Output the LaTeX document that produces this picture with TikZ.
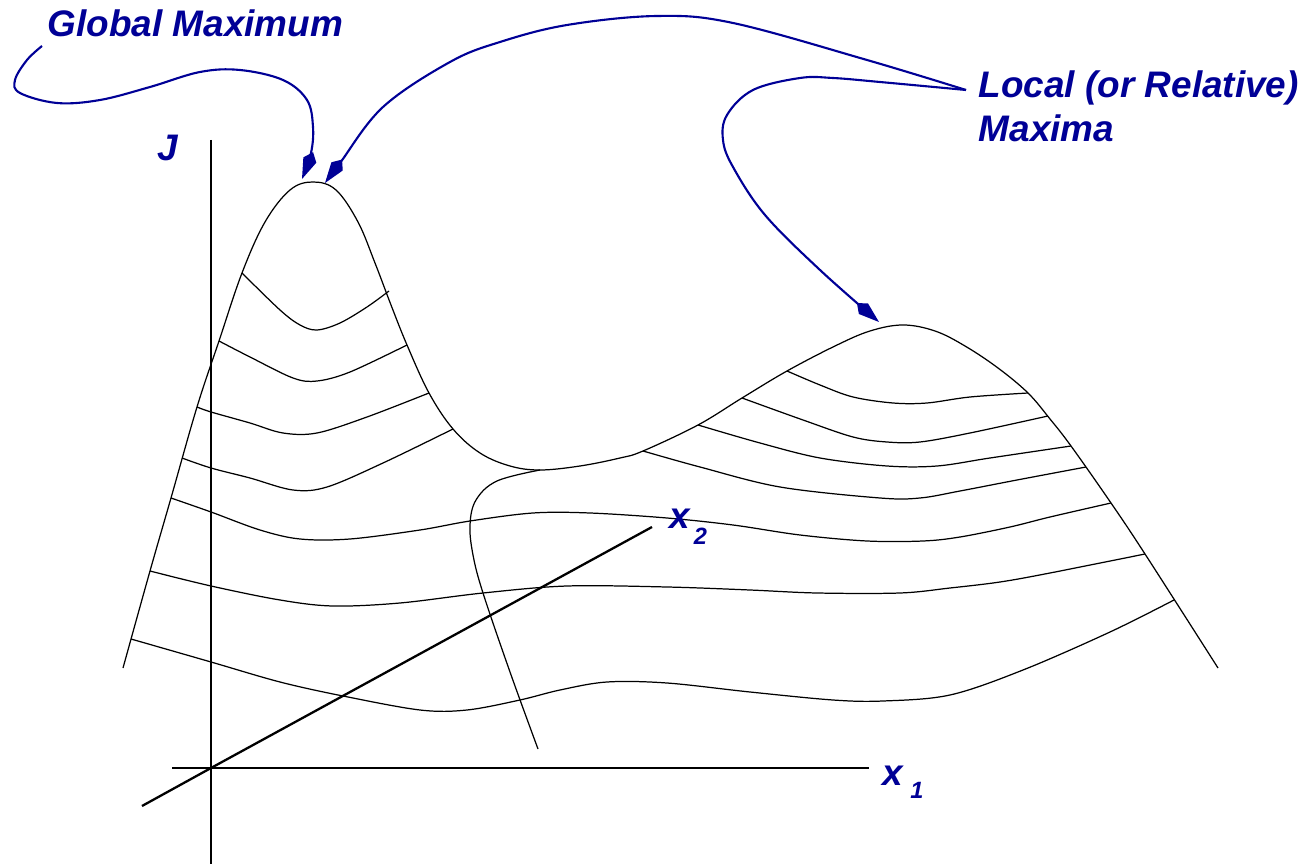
\documentclass[tikz,border=0pt]{standalone}
\usepackage{fontspec}
\setmainfont{Liberation Sans}
\usetikzlibrary{arrows.meta}
\definecolor{labblue}{RGB}{0,0,150}
\begin{document}
\begin{tikzpicture}[x=0.01cm, y=-0.01cm,
  surf/.style={line width=0.35pt, line join=round},
  axisline/.style={line width=0.4pt},
  thickaxis/.style={line width=0.65pt},
  lab/.style={text=labblue, font=\bfseries\itshape\fontsize{10.5}{12.5}\selectfont, inner sep=0pt},
  ptr/.style={draw=labblue, line width=0.6pt, line join=round,
    -{Kite[length=0.29cm,width=0.14cm,inset=0.085cm]}}]
\useasboundingbox (0,0) rectangle (1306,864);

% axes
\coordinate (O) at (211,768);
\coordinate (Jtop) at (211,140);
\coordinate (Jbot) at (211,864);
\coordinate (x1a) at (172,768);
\coordinate (x1b) at (869,768);
\coordinate (x2a) at (142,806);
\coordinate (x2b) at (652,527);
\draw[axisline] (Jtop) -- (Jbot);
\draw[axisline] (x1a) -- (x1b);
\draw[thickaxis] (x2a) -- (O) -- (x2b);

% outline ridge
\draw[surf] plot[smooth, tension=0.6] coordinates {
 (123,668) (150,571) (171,498) (197,407) (219,341)
 (242,273) (265,222) (290,190) (313,182) (336,190) (358,222) (375,263)
 (391,305) (407,345) (429,393) (453,429) (480,453) (510,466) (540,470)
 (580,466) (620,458) (643,451) (698,425) (742,398) (787,371) (835,346) (870,331)
 (903,325) (935,331) (965,346) (998,368) (1028,393) (1050,419) (1071,446)
 (1111,503) (1145,554) (1218,668)};

% contours on the global maximum
\draw[surf] plot[smooth, tension=0.55] coordinates {
 (242,273) (280,310) (300,325) (317,330) (340,323) (367,307) (389,291)};
\draw[surf] plot[smooth, tension=0.55] coordinates {
 (219,341) (250,357) (293,378) (317,381) (350,372) (407,345)};
\draw[surf] plot[smooth, tension=0.55] coordinates {
 (197,407) (211,412) (250,423) (283,433) (317,433) (367,417) (429,393)};
\draw[surf] plot[smooth, tension=0.55] coordinates {
 (182,458) (211,468) (250,478) (293,490) (327,487) (383,463) (453,429)};

% long contours
\draw[surf] plot[smooth, tension=0.55] coordinates {
 (171,498) (211,512) (260,530) (300,539) (350,539) (420,530) (470,521) (533,513)
 (590,513) (667,518) (733,525) (800,535) (867,541) (923,541) (960,537) (1010,527)
 (1050,517) (1111,503)};
\draw[surf] plot[smooth, tension=0.55] coordinates {
 (150,571) (211,586) (280,600) (333,606) (400,603) (483,593) (567,586) (667,587)
 (750,590) (817,593) (900,593) (950,588) (1000,582) (1050,573) (1145,554)};
\draw[surf] plot[smooth, tension=0.55] coordinates {
 (131,639) (211,662) (280,682) (343,696) (420,710) (467,710) (520,700) (560,690)
 (607,682) (667,683) (750,692) (833,700) (883,701) (950,695) (1023,670) (1110,632)
 (1174,600)};

% contours on the local maximum
\draw[surf] plot[smooth, tension=0.55] coordinates {
 (787,371) (820,385) (853,397) (893,403) (927,403) (970,397) (1028,393)};
\draw[surf] plot[smooth, tension=0.55] coordinates {
 (742,398) (803,420) (853,437) (887,442) (920,442) (970,433) (1048,416)};
\draw[surf] plot[smooth, tension=0.55] coordinates {
 (698,425) (760,443) (820,458) (887,466) (937,466) (990,458) (1071,446)};
\draw[surf] plot[smooth, tension=0.55] coordinates {
 (643,451) (700,467) (780,487) (880,498) (920,498) (960,491) (1017,480) (1086,467)};

% transverse front curve from the saddle
\draw[surf] plot[smooth, tension=0.6] coordinates {
 (540,470) (497,481) (476,500) (470,525) (473,555) (483,593) (510,672) (538,749)};

% labels
\node[lab, anchor=base west] (gm) at (47,37) {Global Maximum};
\node[lab, anchor=north west, align=left] (lm) at (978,70) {Local (or Relative)\\Maxima};
\node[lab, anchor=base west] (J) at (157,161) {J};
\node[lab, anchor=base west] (x2) at (669,528) {x\hspace{1pt}\raisebox{-4.8pt}{\fontsize{6.7}{7}\selectfont 2}};
\node[lab, anchor=base west] (x1) at (882,785) {x\hspace{2pt}\raisebox{-3.7pt}{\fontsize{6.7}{7}\selectfont 1}};

% pointers
\coordinate (gstart) at (42,46);
\coordinate (lstart) at (966,90);
\coordinate (gtipL) at (302,179);
\coordinate (gtipR) at (325,183);
\coordinate (ltip) at (879,322);
\draw[ptr] plot[smooth, tension=0.6] coordinates {
 (gstart) (27,60) (15,80) (20,93) (57,103) (100,100) (150,87) (200,72) (240,70)
 (283,80) (307,100) (313,127) (311,153) (gtipL)};
\draw[ptr] plot[smooth, tension=0.6] coordinates {
 (lstart) (867,60) (733,23) (657,16) (567,25) (500,42) (450,62) (383,107) (340,163) (gtipR)};
\draw[ptr] plot[smooth, tension=0.6] coordinates {
 (lstart) (880,82) (833,78) (800,78) (753,90) (727,115) (723,140) (733,167)
 (765,215) (820,270) (ltip)};
\end{tikzpicture}
\end{document}
